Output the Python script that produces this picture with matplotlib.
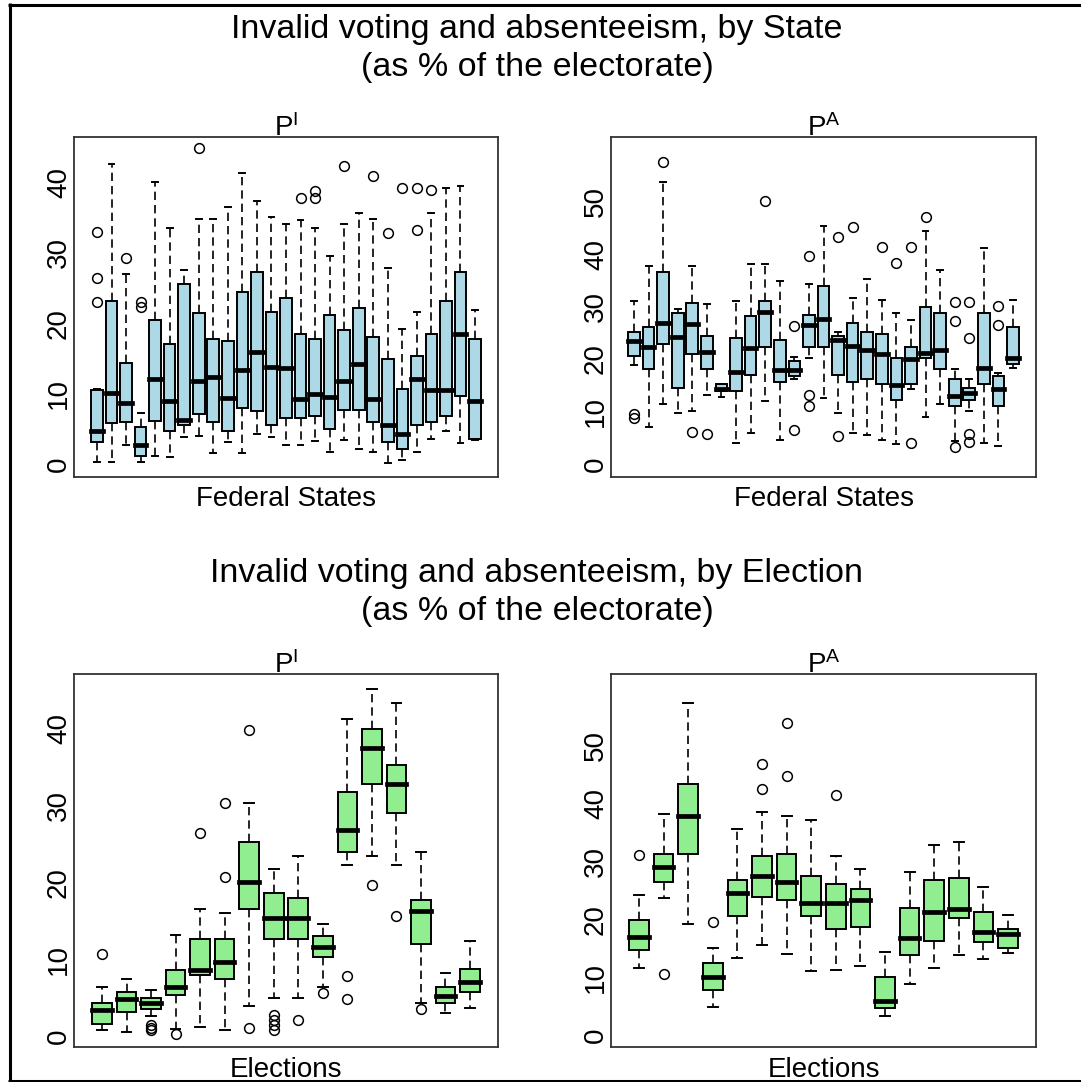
import matplotlib
matplotlib.use("Agg")
import matplotlib.pyplot as plt
from matplotlib.lines import Line2D

plt.rcParams["font.family"] = ["Liberation Sans", "DejaVu Sans"]
plt.rcParams["mathtext.fontset"] = "custom"
plt.rcParams["mathtext.rm"] = "Liberation Sans"

# ---------------------------------------------------------------------------
# Invalid votes (P^I) by federal state, % of electorate
state_inv_lo = [0.24, 0.28, 2.7, 0.33, 1.2, 0.94, 3.8, 4.0, 1.5, 3.1, 1.5, 4.3, 3.8, 2.7,
                2.7, 3.2, 1.65, 3.4, 2.2, 1.65, 0.14, 0.6, 1.65, 3.5, 4.7, 3.0, 3.4]
state_inv_q1 = [3.1, 5.8, 6.0, 1.08, 6.1, 4.7, 5.6, 7.1, 6.0, 4.7, 7.9, 7.5, 5.6, 6.6,
                6.6, 6.8, 5.0, 7.6, 7.6, 6.0, 3.1, 2.1, 5.6, 6.0, 6.8, 9.7, 3.5]
state_inv_med = [4.7, 10.05, 8.7, 2.7, 12.0, 8.9, 6.3, 11.8, 12.3, 9.4, 13.3, 15.9, 13.8, 13.6,
                 9.2, 10.0, 9.5, 11.8, 14.2, 9.2, 5.6, 4.2, 12.1, 10.5, 10.5, 18.5, 8.9]
state_inv_q3 = [10.5, 23.1, 14.3, 5.2, 20.5, 17.1, 25.5, 21.4, 17.7, 17.5, 24.4, 27.3, 21.6, 23.6,
                18.5, 17.7, 21.1, 19.0, 22.1, 18.0, 14.9, 10.7, 15.3, 18.4, 23.1, 27.3, 17.7]
state_inv_hi = [10.6, 42.6, 27.0, 7.3, 40.0, 33.5, 27.5, 34.8, 34.8, 36.4, 41.3, 37.3, 35.0, 34.0,
                34.6, 33.5, 29.5, 34.0, 35.6, 34.8, 27.8, 19.2, 21.6, 35.6, 39.2, 39.4, 21.8]
state_inv_out = [[23.0, 26.4, 32.9], [], [29.2], [22.3, 23.0], [], [], [], [44.8], [], [], [],
                 [], [], [], [37.8], [37.8, 38.8], [], [42.3], [], [40.9], [32.8], [39.1],
                 [33.2, 39.1], [38.9], [], [], []]

# Absenteeism (P^A) by federal state, % of electorate
state_abs_lo = [18.8, 7.0, 11.5, 9.7, 10.1, 13.2, 12.7, 4.0, 5.9, 12.0, 4.5, 16.2, 20.2, 12.5,
                9.7, 5.9, 5.5, 4.5, 3.8, 14.3, 9.0, 11.5, 4.3, 10.1, 4.0, 3.5, 18.2]
state_abs_q1 = [20.5, 18.1, 22.9, 14.5, 20.9, 18.1, 13.8, 13.9, 17.0, 22.3, 15.6, 16.8, 22.3, 22.3,
                17.0, 15.6, 16.1, 15.3, 12.2, 15.3, 20.2, 18.1, 11.1, 12.1, 15.3, 11.1, 19.1]
state_abs_med = [23.4, 22.3, 26.9, 24.1, 26.6, 21.3, 14.2, 17.5, 22.1, 29.0, 17.8, 17.8, 26.4, 27.6,
                 23.6, 22.4, 21.7, 21.0, 15.0, 19.9, 21.1, 21.7, 12.9, 13.6, 18.2, 14.3, 20.1]
state_abs_q3 = [25.1, 26.1, 36.6, 28.7, 30.7, 24.3, 15.2, 24.0, 28.2, 31.0, 23.7, 19.6, 28.3, 33.9,
                24.3, 26.9, 25.1, 24.7, 20.1, 22.3, 29.9, 28.7, 16.1, 14.5, 28.7, 16.8, 26.1]
state_abs_hi = [31.0, 37.7, 53.8, 29.6, 37.7, 30.4, 15.3, 31.0, 38.0, 38.0, 34.8, 20.4, 34.2, 45.4,
                25.2, 31.7, 35.2, 31.3, 28.7, 27.5, 44.3, 36.9, 18.1, 16.1, 41.2, 17.3, 31.3]
state_abs_out = [[8.8, 9.6], [], [57.5], [], [6.1], [5.7], [], [], [], [50.1], [],
                 [6.4, 26.3], [11.0, 13.1, 39.6], [], [5.4, 43.2], [45.2], [], [41.4], [38.2],
                 [3.9, 41.4], [47.0], [], [3.3, 27.3, 30.8], [4.1, 5.7, 23.9, 30.8], [],
                 [26.5, 30.1], []]

# Invalid votes (P^I) by election, % of electorate
elec_inv_lo = [0.78, 0.5, 2.65, 1.0, 1.2, 0.78, 3.9, 5.0, 5.0, 6.4, 22.2, 23.4, 22.2, 4.35, 2.96, 3.7]
elec_inv_q1 = [1.65, 3.1, 3.6, 5.3, 8.0, 7.4, 16.5, 12.65, 12.65, 10.3, 24.0, 32.8, 29.0, 12.0, 4.35, 5.8]
elec_inv_med = [3.4, 4.8, 4.35, 6.4, 8.6, 9.6, 20.1, 15.35, 15.35, 11.6, 26.8, 37.5, 32.8, 16.3, 5.26, 7.0]
elec_inv_q3 = [4.35, 5.8, 5.0, 8.6, 12.65, 12.65, 25.3, 18.6, 17.96, 13.0, 31.8, 39.9, 35.3, 17.65, 6.4, 8.8]
elec_inv_hi = [6.4, 7.4, 6.0, 13.2, 16.5, 16.0, 30.3, 21.7, 23.4, 14.6, 41.3, 45.2, 43.3, 23.9, 8.2, 12.4]
elec_inv_out = [[10.7], [], [0.78, 1.13, 1.43], [0.35], [26.4], [20.7, 30.3], [1.13, 39.8],
                [0.87, 1.4, 2.1, 2.7], [2.1], [5.65], [4.9, 7.8], [19.7], [15.65], [3.5], [], []]

# Absenteeism (P^A) by election, % of electorate
elec_abs_lo = [11.5, 23.6, 19.2, 4.9, 13.3, 15.5, 14.0, 11.0, 11.2, 11.9, 3.3, 8.8, 11.6, 13.8, 13.1, 14.1]
elec_abs_q1 = [14.7, 26.5, 31.3, 7.8, 20.5, 23.9, 23.4, 20.5, 18.3, 18.6, 4.6, 13.8, 16.3, 20.2, 16.0, 15.1]
elec_abs_med = [17.0, 29.0, 37.9, 10.0, 24.6, 27.4, 26.5, 22.8, 22.8, 23.4, 5.9, 16.7, 21.2, 21.7, 17.7, 17.4]
elec_abs_q3 = [19.9, 31.3, 43.3, 12.5, 26.8, 30.9, 31.3, 27.4, 26.1, 25.2, 10.0, 22.0, 26.8, 27.1, 21.3, 18.3]
elec_abs_hi = [24.2, 38.2, 57.3, 15.0, 35.6, 38.5, 37.8, 37.2, 30.9, 28.7, 14.4, 28.1, 32.8, 33.4, 25.5, 20.8]
elec_abs_out = [[31.1], [10.5], [], [19.6], [], [42.5, 46.9], [44.7, 53.9], [], [41.5],
                [], [], [], [], [], [], []]

ticks_inv = [0, 10, 20, 30, 40]
ticks_abs = [0, 10, 20, 30, 40, 50]

W, H = 1081, 1082
fig = plt.figure(figsize=(W / 100, H / 100), dpi=100)
fig.patch.set_facecolor("white")


def fx(x):
    return x / W


def fy(y):
    return 1 - y / H


def make_stats(lo, q1, med, q3, hi, out):
    return [dict(whislo=a, q1=b, med=c, q3=d, whishi=e, fliers=f)
            for a, b, c, d, e, f in zip(lo, q1, med, q3, hi, out)]


def panel(rect_px, stats, color, ylim, ticks):
    x0, y0, x1, y1 = rect_px
    ax = fig.add_axes([fx(x0), fy(y1), (x1 - x0) / W, (y1 - y0) / H])
    n = len(stats)
    ax.bxp(stats, positions=range(1, n + 1), widths=0.8, capwidths=0.4,
           patch_artist=True, showfliers=True,
           boxprops=dict(facecolor=color, edgecolor="black", linewidth=1.4),
           whiskerprops=dict(color="black", linewidth=1.2, linestyle=(0, (5, 3))),
           capprops=dict(color="black", linewidth=1.4),
           medianprops=dict(color="black", linewidth=3.4, solid_capstyle="projecting"),
           flierprops=dict(marker="o", markersize=7, markerfacecolor="none",
                           markeredgecolor="black", markeredgewidth=1.1))
    ax.set_xlim(0.5 - 0.04 * n, n + 0.5 + 0.04 * n)
    ax.set_ylim(*ylim)
    ax.set_xticks([])
    ax.set_yticks(ticks)
    ax.set_yticklabels([str(t) for t in ticks])
    ax.tick_params(axis="y", length=0, pad=1.5, labelsize=20)
    for lbl in ax.get_yticklabels():
        lbl.set_rotation(90)
        lbl.set_va("center")
    for sp in ax.spines.values():
        sp.set_color("#333333")
        sp.set_linewidth(1.3)
    return ax


light_blue = "#ADD8E6"
light_green = "#90EE90"

panel((74, 137, 498, 477),
      make_stats(state_inv_lo, state_inv_q1, state_inv_med, state_inv_q3, state_inv_hi, state_inv_out),
      light_blue, (-1.84, 46.4), ticks_inv)
panel((611, 137, 1036, 477),
      make_stats(state_abs_lo, state_abs_q1, state_abs_med, state_abs_q3, state_abs_hi, state_abs_out),
      light_blue, (-2.5, 62.3), ticks_abs)
panel((74, 674, 498, 1047),
      make_stats(elec_inv_lo, elec_inv_q1, elec_inv_med, elec_inv_q3, elec_inv_hi, elec_inv_out),
      light_green, (-1.4, 47.1), ticks_inv)
panel((611, 674, 1036, 1047),
      make_stats(elec_abs_lo, elec_abs_q1, elec_abs_med, elec_abs_q3, elec_abs_hi, elec_abs_out),
      light_green, (-2.1, 62.4), ticks_abs)

title_kw = dict(ha="center", va="baseline", fontsize=24.5, color="black")
fig.text(fx(537), fy(38), "Invalid voting and absenteeism, by State", **title_kw)
fig.text(fx(537), fy(76), "(as % of the electorate)", **title_kw)
fig.text(fx(537), fy(582), "Invalid voting and absenteeism, by Election", **title_kw)
fig.text(fx(537), fy(620), "(as % of the electorate)", **title_kw)

sub_kw = dict(ha="center", va="baseline", fontsize=20, color="black")
for cx, sub in ((286, r"$\mathregular{P^I}$"), (823.5, r"$\mathregular{P^A}$")):
    fig.text(fx(cx), fy(136), sub, **sub_kw)
    fig.text(fx(cx), fy(673), sub, **sub_kw)
    fig.text(fx(cx), fy(506), "Federal States", **sub_kw)
    fig.text(fx(cx), fy(1077), "Elections", **sub_kw)

# outer frame (top, left and bottom edges)
frame_kw = dict(color="black", linewidth=2.2, solid_capstyle="butt", transform=fig.transFigure)
fig.add_artist(Line2D([fx(8), 1], [fy(4.5), fy(4.5)], **frame_kw))
fig.add_artist(Line2D([fx(9.5), fx(9.5)], [fy(3), 0], **frame_kw))
fig.add_artist(Line2D([fx(8), 1], [fy(1080.5), fy(1080.5)], **frame_kw))

fig.savefig("out.png", dpi=100, facecolor="white")
